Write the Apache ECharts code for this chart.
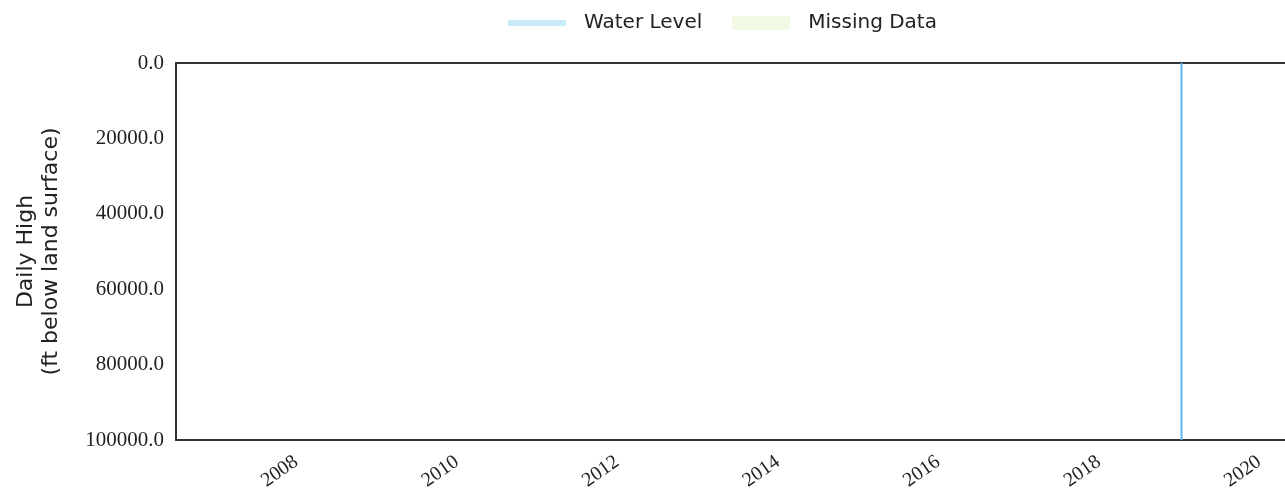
<!DOCTYPE html>
<html>
<head>
<meta charset="utf-8">
<script src="https://cdn.jsdelivr.net/npm/echarts@6/dist/echarts.min.js"></script>
<style>
html,body{margin:0;padding:0;background:#fff;}
#chart{width:1285px;height:493px;}
</style>
</head>
<body>
<div id="chart"></div>
<script>
// ---- data ----
const xRange = ['2006-07-03', '2020-04-27'];
const xTickYears = [2008, 2010, 2012, 2014, 2016, 2018, 2020];
const yTicks = [0, 20000, 40000, 60000, 80000, 100000];
const waterLevelDates = ['2019-01-12', '2019-01-12'];
const waterLevelValues = [0, 100000];
const missingDataDates = [];
const missingDataValues = [];
const seriesNames = ['Water Level', 'Missing Data'];

const ts = d => new Date(d + 'T00:00:00Z').getTime();
const waterData = waterLevelDates.map((d, i) => [ts(d), waterLevelValues[i]]);
const missingData = missingDataDates.map((d, i) => [ts(d), missingDataValues[i]]);
const xTickValues = xTickYears.map(y => Date.UTC(y, 0, 1));

const chart = echarts.init(document.getElementById('chart'), null, {renderer: 'canvas'});
const serif = '"Liberation Serif", "DejaVu Serif", serif';
const sans = '"DejaVu Sans", "Noto Sans", sans-serif';

chart.setOption({
  animation: false,
  backgroundColor: '#fff',
  legend: {
    top: 8,
    left: 503,
    itemWidth: 58,
    itemHeight: 14,
    itemGap: 30,
    textStyle: {fontFamily: sans, fontSize: 20, color: '#222', padding: [0, 0, 0, 13]},
    data: [
      {name: seriesNames[0], icon: 'path://M0,0H10V1H0Z', itemStyle: {color: '#c9ecfa'}},
      {name: seriesNames[1], icon: 'rect', itemStyle: {color: '#f1f8e4'}}
    ]
  },
  grid: {left: 176, right: 0, top: 63, bottom: 53, containLabel: false},
  xAxis: [{
    type: 'value',
    position: 'bottom',
    min: ts(xRange[0]),
    max: ts(xRange[1]),
    axisLine: {show: true, onZero: false, lineStyle: {color: '#333', width: 2}},
    axisTick: {show: false},
    splitLine: {show: false},
    axisLabel: {
      customValues: xTickValues,
      rotate: 35,
      margin: 20,
      fontFamily: serif,
      fontSize: 20,
      color: '#222',
      formatter: v => String(new Date(v).getUTCFullYear())
    }
  }, {
    type: 'value',
    position: 'top',
    min: ts(xRange[0]),
    max: ts(xRange[1]),
    axisLine: {show: true, onZero: false, lineStyle: {color: '#333', width: 2}},
    axisTick: {show: false},
    axisLabel: {show: false},
    splitLine: {show: false}
  }],
  yAxis: {
    type: 'value',
    inverse: true,
    min: yTicks[0],
    max: yTicks[yTicks.length - 1],
    interval: yTicks[1] - yTicks[0],
    axisLine: {show: true, onZero: false, lineStyle: {color: '#333', width: 2}},
    axisTick: {show: false},
    splitLine: {show: false},
    axisLabel: {
      margin: 12,
      fontFamily: serif,
      fontSize: 21,
      color: '#222',
      formatter: v => v.toFixed(1)
    },
    name: 'Daily High\n(ft below land surface)',
    nameLocation: 'middle',
    nameRotate: 90,
    nameGap: 112,
    nameTextStyle: {fontFamily: sans, fontSize: 22, color: '#222', lineHeight: 25}
  },
  series: [{
    name: seriesNames[0],
    type: 'line',
    xAxisIndex: 0,
    data: waterData,
    symbol: 'none',
    lineStyle: {color: '#5eb3f2', width: 2},
    itemStyle: {color: '#5eb3f2'}
  }, {
    name: seriesNames[1],
    type: 'line',
    xAxisIndex: 0,
    data: missingData,
    symbol: 'none',
    lineStyle: {color: '#f1f8e4', width: 0},
    areaStyle: {color: '#f1f8e4'},
    itemStyle: {color: '#f1f8e4'}
  }]
});
</script>
</body>
</html>
